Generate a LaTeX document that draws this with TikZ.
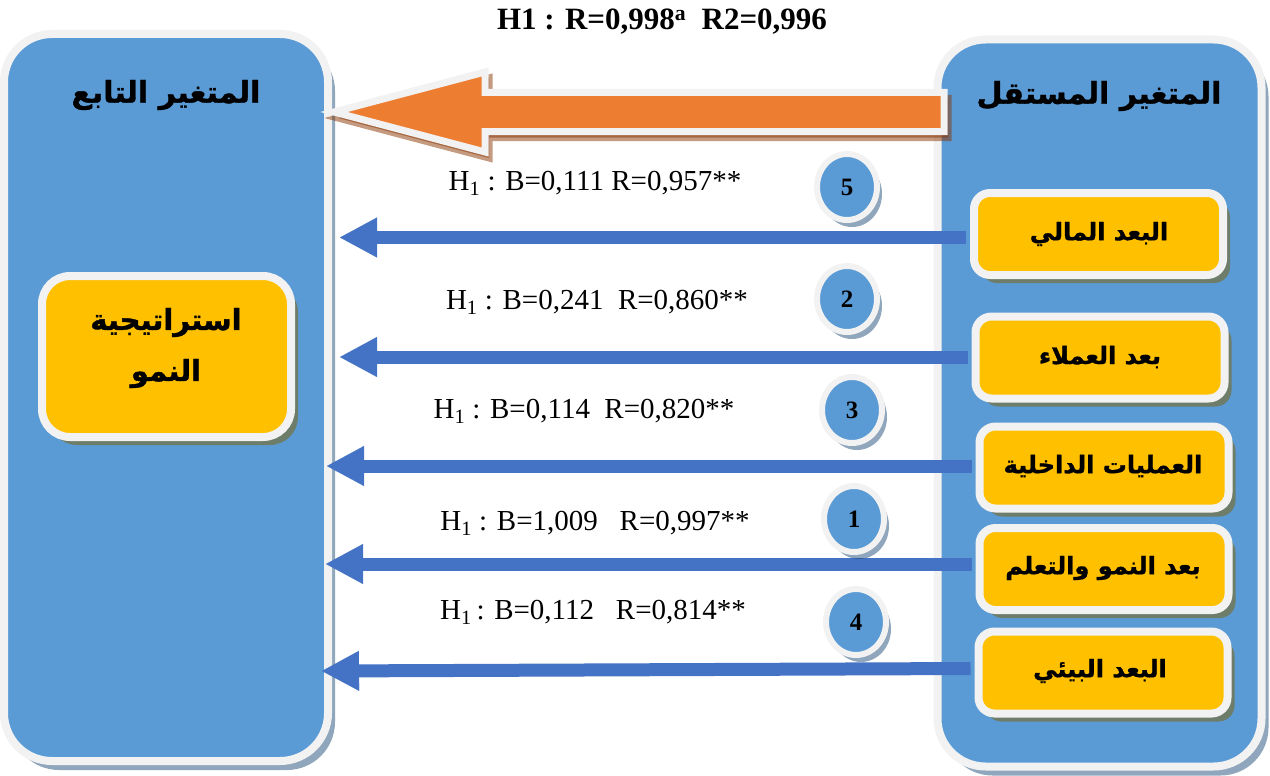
\documentclass[tikz,border=0pt]{standalone}
\usepackage{fontspec}
\setmainfont{Liberation Serif}
\newfontfamily\arabicfont[Script=Arabic, BoldFeatures={FakeBold=1.2}]{DejaVu Sans}
\TeXXeTstate=1
\usetikzlibrary{shadows,arrows.meta,shapes.geometric}

\definecolor{panelblue}{HTML}{5B9BD5}
\definecolor{arrowblue}{HTML}{4472C4}
\definecolor{boxyellow}{HTML}{FFC000}
\definecolor{rimgray}{HTML}{F2F2F2}
\definecolor{bigorange}{HTML}{ED7D31}
\definecolor{shadeblue}{HTML}{1F4E79}
\definecolor{shadeolive}{HTML}{7F6000}
\definecolor{shadebrown}{HTML}{893501}

\begin{document}
\begin{tikzpicture}[x=1pt,y=-1pt,
  panel/.style={rectangle, rounded corners=48pt, fill=panelblue, draw=rimgray,
    line width=8pt, minimum width=324pt, minimum height=727pt, inner sep=0pt,
    drop shadow={shadow xshift=7pt, shadow yshift=-9pt, fill=shadeblue, opacity=0.5}},
  paneltitle/.style={font=\arabicfont\bfseries\fontsize{30}{34}\selectfont, inner sep=0pt},
  dimbox/.style={rectangle, rounded corners=16pt, fill=boxyellow, draw=rimgray,
    line width=8pt, minimum width=249pt, minimum height=82pt, inner sep=0pt,
    drop shadow={shadow xshift=7pt, shadow yshift=-8pt, fill=shadeolive, opacity=0.5}},
  dimtext/.style={font=\arabicfont\bfseries\fontsize{24}{28}\selectfont, inner sep=0pt},
  mainbox/.style={dimbox, rounded corners=28pt, minimum height=161pt},
  maintext/.style={font=\arabicfont\bfseries\fontsize{29}{51}\selectfont, align=center, inner sep=0pt},
  numdisc/.style={ellipse, fill=panelblue, draw=rimgray, line width=6pt,
    minimum width=60pt, minimum height=66pt, inner sep=0pt,
    drop shadow={shadow xshift=5pt, shadow yshift=-7pt, fill=shadeblue, opacity=0.5},
    font=\bfseries\fontsize{25}{28}\selectfont},
  coef/.style={font=\fontsize{29}{32}\selectfont, inner sep=0pt},
  rel/.style={draw=arrowblue, line width=13pt,
    -{Triangle[length=37pt,width=40pt,line width=0.1pt]}, shorten <=4pt}
]
\useasboundingbox (0,0) rectangle (1270,776);

% heading
\node[font=\bfseries\fontsize{31}{34}\selectfont, inner sep=0pt] (head) at (662,22)
  {H1 : R=0,998\textsuperscript{a}\ \ R2=0,996};

% the two variable panels
\node[panel] (dep) at (166,397.5) {};
\node[panel] (ind) at (1099.5,403) {};
\node[paneltitle] (depT) at (166,95) {\beginR المتغير التابع\endR};
\node[paneltitle] (indT) at (1099,96) {\beginR المتغير المستقل\endR};

% overall effect arrow
\draw[fill=shadebrown, draw=shadebrown, opacity=0.5, line width=7pt, miter limit=10]
  (948,98.5) -- (489,98.5) -- (489,78) -- (338,118) -- (489,158) -- (489,137.5)
  -- (948,137.5) -- cycle;
\draw[fill=bigorange, draw=rimgray, line width=7pt, miter limit=10]
  (944,92.5) -- (485,92.5) -- (485,72) -- (334,112) -- (485,152) -- (485,131.5)
  -- (944,131.5) -- cycle;

% dimension boxes
\node[dimbox] (b1) at (1098.5,234) {};
\node[dimbox] (b2) at (1100,357.5) {};
\node[dimbox] (b3) at (1104,467.5) {};
\node[dimbox] (b4) at (1104,569) {};
\node[dimbox] (b5) at (1103,672.5) {};
\node[dimtext] (b1T) at (1099,234) {\beginR البعد المالي\endR};
\node[dimtext] (b2T) at (1100,357) {\beginR بعد العملاء\endR};
\node[dimtext] (b3T) at (1103,466) {\beginR العمليات الداخلية\endR};
\node[dimtext] (b4T) at (1103,568) {\beginR بعد النمو والتعلم\endR};
\node[dimtext] (b5T) at (1100,671) {\beginR البعد البيئي\endR};

% tips of the dimension arrows
\coordinate (t1) at (340,237.5);
\coordinate (t2) at (340,357);
\coordinate (t3) at (327,466);
\coordinate (t4) at (326,564);
\coordinate (t5) at (322,671);

% dimension arrows, starting at the outer edge of each box rim
\draw[rel] (b1.west |- t1) -- (t1);
\draw[rel] (b2.west |- t2) -- (t2);
\draw[rel] (b3.west |- t3) -- (t3);
\draw[rel] (b4.west |- t4) -- (t4);
\draw[rel] ([yshift=4pt]b5.west) -- (t5);

% dependent variable
\node[mainbox] (strat) at (166.5,356.5) {};
\node[maintext] (stratT) at (166,348) {\beginR استراتيجية\endR\\\beginR النمو\endR};

% ranking discs
\node[numdisc] (c5) at (847,187) {5};
\node[numdisc] (c2) at (847,299) {2};
\node[numdisc] (c3) at (852,410) {3};
\node[numdisc] (c1) at (854,519) {1};
\node[numdisc] (c4) at (856,622) {4};

% coefficients
\node[coef] (l1) at (595,183) {H\textsubscript{1} : B=0,111 R=0,957**};
\node[coef] (l2) at (597,302) {H\textsubscript{1} : B=0,241\ \ R=0,860**};
\node[coef] (l3) at (584,411) {H\textsubscript{1} : B=0,114\ \ R=0,820**};
\node[coef] (l4) at (595,523) {H\textsubscript{1} : B=1,009\ \ \ R=0,997**};
\node[coef] (l5) at (593,612) {H\textsubscript{1}\,: B=0,112\ \ \ R=0,814**};
\end{tikzpicture}
\end{document}
